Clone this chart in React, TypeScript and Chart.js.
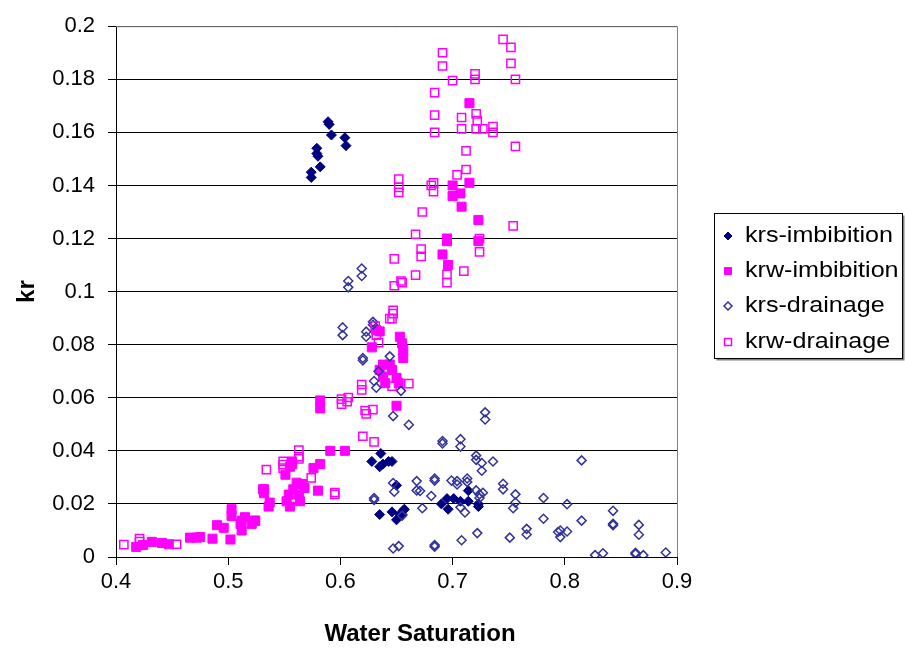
import React, { useEffect, useRef } from 'react';
import { Chart, registerables } from 'chart.js';

Chart.register(...registerables);

const SERIES_NAMES = ['krs-imbibition', 'krw-imbibition', 'krs-drainage', 'krw-drainage'];
const X_AXIS_TITLE = 'Water Saturation';
const Y_AXIS_TITLE = 'kr';

// krs-imbibition (filled navy diamonds)
const krsImbX = [0.589, 0.590, 0.592, 0.604, 0.605, 0.579, 0.579, 0.580, 0.582, 0.574, 0.574,
  0.636, 0.628, 0.635, 0.638, 0.643, 0.646, 0.650, 0.635, 0.646, 0.650, 0.653, 0.657, 0.655, 0.656,
  0.690, 0.695, 0.696, 0.701, 0.707, 0.714, 0.714, 0.723, 0.723];
const krsImbY = [0.164, 0.163, 0.159, 0.158, 0.155, 0.154, 0.152, 0.151, 0.147, 0.145, 0.143,
  0.039, 0.036, 0.034, 0.035, 0.036, 0.036, 0.027, 0.016, 0.017, 0.014, 0.016, 0.018, 0.016, 0.0175,
  0.020, 0.022, 0.018, 0.022, 0.021, 0.021, 0.025, 0.019, 0.020];

// krw-imbibition (filled magenta squares)
const krwImbX = [0.715, 0.700, 0.700, 0.707, 0.715, 0.708, 0.723, 0.695, 0.695, 0.691, 0.696, 0.723,
  0.632, 0.635, 0.628, 0.653, 0.655, 0.656, 0.656, 0.638, 0.644, 0.646, 0.635, 0.638, 0.640, 0.650, 0.652, 0.582, 0.582, 0.650,
  0.591, 0.604, 0.557, 0.557, 0.555, 0.551, 0.576, 0.582, 0.561, 0.566, 0.558, 0.568, 0.554, 0.563, 0.552, 0.564, 0.555, 0.537, 0.536, 0.532, 0.532, 0.580, 0.524, 0.521, 0.531,
  0.503, 0.503, 0.512, 0.515, 0.524, 0.512, 0.511, 0.490, 0.496, 0.502, 0.486, 0.466, 0.472, 0.475, 0.447, 0.441, 0.432, 0.424, 0.418];
const krwImbY = [0.171, 0.140, 0.136, 0.137, 0.141, 0.132, 0.127, 0.120, 0.119, 0.114, 0.110, 0.119,
  0.0855, 0.085, 0.079, 0.083, 0.0805, 0.078, 0.075, 0.0725, 0.0725, 0.0705, 0.0705, 0.068, 0.0655, 0.0675, 0.0655, 0.059, 0.056, 0.057,
  0.040, 0.040, 0.036, 0.035, 0.034, 0.031, 0.0335, 0.035, 0.028, 0.0275, 0.0255, 0.026, 0.0235, 0.0235, 0.021, 0.021, 0.019, 0.0205, 0.019, 0.0255, 0.024, 0.025, 0.0137, 0.0125, 0.0255,
  0.018, 0.0155, 0.0137, 0.015, 0.0137, 0.010, 0.0125, 0.012, 0.011, 0.0066, 0.0069, 0.0073, 0.0073, 0.0075, 0.0048, 0.0053, 0.0057, 0.0045, 0.0038];

// krs-drainage (open blue diamonds)
const krsDrX = [0.607, 0.607, 0.619, 0.619,
  0.602, 0.602, 0.623, 0.623, 0.629, 0.629, 0.620, 0.620, 0.644, 0.634, 0.630, 0.632, 0.654,
  0.647, 0.661, 0.729, 0.729, 0.691, 0.691, 0.707, 0.707, 0.721, 0.721, 0.726, 0.726, 0.736,
  0.647, 0.648, 0.668, 0.668, 0.671, 0.681, 0.684, 0.684, 0.699, 0.704, 0.704, 0.713, 0.713, 0.721, 0.724, 0.724, 0.727, 0.745, 0.745, 0.756,
  0.756, 0.754, 0.781, 0.781, 0.673, 0.707, 0.711, 0.655, 0.766, 0.766, 0.751, 0.722, 0.708, 0.684, 0.684, 0.647, 0.652, 0.794, 0.630, 0.630,
  0.802, 0.815, 0.815, 0.796, 0.796, 0.802, 0.843, 0.843, 0.843, 0.866, 0.866, 0.827, 0.834, 0.863, 0.863, 0.870, 0.890];
const krsDrY = [0.104, 0.1016, 0.1087, 0.1059,
  0.0865, 0.0836, 0.0849, 0.083, 0.0886, 0.0875, 0.075, 0.0741, 0.0756, 0.070, 0.0663, 0.0638, 0.0626,
  0.0531, 0.0498, 0.0545, 0.0518, 0.0437, 0.0428, 0.0444, 0.0416, 0.0382, 0.0366, 0.0354, 0.0325, 0.036,
  0.0279, 0.0246, 0.0286, 0.0251, 0.0249, 0.023, 0.0296, 0.0288, 0.0288, 0.0286, 0.0273, 0.0296, 0.0283, 0.0251, 0.0236, 0.0222, 0.0242, 0.0276, 0.0255, 0.0236,
  0.0205, 0.0184, 0.0222, 0.0144, 0.0184, 0.0187, 0.0168, 0.0156, 0.0106, 0.0085, 0.0073, 0.009, 0.0063, 0.0045, 0.0039, 0.0032, 0.0041, 0.0094, 0.0215, 0.0222,
  0.0199, 0.0364, 0.0137, 0.010, 0.0075, 0.0096, 0.0174, 0.0125, 0.012, 0.0121, 0.0084, 0.0007, 0.0014, 0.0016, 0.0011, 0.0007, 0.0017];

// krw-drainage (open magenta squares)
const krwDrX = [0.745, 0.752, 0.691, 0.691, 0.752, 0.700, 0.720, 0.720, 0.756, 0.684, 0.684, 0.684, 0.708, 0.708, 0.721, 0.722, 0.721, 0.727, 0.736, 0.736, 0.756, 0.712, 0.712, 0.704,
  0.652, 0.652, 0.652, 0.683, 0.683, 0.681,
  0.673, 0.754, 0.667, 0.724, 0.724, 0.672, 0.672, 0.648, 0.667, 0.695, 0.695, 0.710, 0.654, 0.655, 0.648,
  0.647, 0.646, 0.631, 0.632, 0.634, 0.644, 0.647, 0.646, 0.661, 0.619, 0.619, 0.601, 0.601, 0.607, 0.606, 0.622, 0.623, 0.629, 0.620, 0.630,
  0.563, 0.563, 0.563, 0.549, 0.549, 0.549, 0.534, 0.574, 0.595, 0.595,
  0.407, 0.421, 0.421, 0.454];
const krwDrY = [0.195, 0.192, 0.190, 0.185, 0.186, 0.1795, 0.182, 0.180, 0.180, 0.175, 0.1665, 0.160, 0.1656, 0.1613, 0.167, 0.1644, 0.1613, 0.1613, 0.1622, 0.160, 0.1547, 0.153, 0.146, 0.144,
  0.1424, 0.1393, 0.1374, 0.141, 0.1377, 0.140,
  0.130, 0.1248, 0.1216, 0.120, 0.115, 0.116, 0.1133, 0.1123, 0.1062, 0.1065, 0.1034, 0.1077, 0.104, 0.1034, 0.1022,
  0.0929, 0.0898, 0.087, 0.0836, 0.0808, 0.0898, 0.0917, 0.0644, 0.0653, 0.065, 0.063, 0.0595, 0.0576, 0.0601, 0.0585, 0.0552, 0.0539, 0.0555, 0.0455, 0.0434,
  0.0403, 0.0378, 0.037, 0.036, 0.0348, 0.0335, 0.0329, 0.0298, 0.0243, 0.0236,
  0.0047, 0.0069, 0.0058, 0.0048];

const X_MIN = 0.4, X_MAX = 0.9, X_STEP = 0.1;
const Y_MIN = 0, Y_MAX = 0.2, Y_STEP = 0.02;

const FONT_FAMILY = '"Liberation Sans", Arial, sans-serif';
const NAVY = '#000080';
const MAGENTA = '#FF00FF';
const BLUE_OPEN = '#333399';

const pts = (xs: number[], ys: number[]) => xs.map((x, i) => ({ x, y: ys[i] }));
const fmt = (v: number | string) => String(Number(Number(v).toFixed(2)));

const markerDefs = [
  { style: 'rectRot', radius: 5, bg: NAVY, border: NAVY, bw: 1 },
  { style: 'rect', radius: 6.4, bg: MAGENTA, border: MAGENTA, bw: 1 },
  { style: 'rectRot', radius: 4.5, bg: 'rgba(0,0,0,0)', border: BLUE_OPEN, bw: 1.5 },
  { style: 'rect', radius: 5.8, bg: 'rgba(0,0,0,0)', border: MAGENTA, bw: 1.5 },
];

function drawLegendMarker(ctx: CanvasRenderingContext2D, i: number, x: number, y: number) {
  const m = markerDefs[i];
  ctx.save();
  ctx.beginPath();
  if (m.style === 'rectRot') {
    const r = 4;
    ctx.moveTo(x, y - r);
    ctx.lineTo(x + r, y);
    ctx.lineTo(x, y + r);
    ctx.lineTo(x - r, y);
    ctx.closePath();
  } else {
    const h = 3.5;
    ctx.rect(x - h, y - h, 2 * h, 2 * h);
  }
  ctx.fillStyle = m.bg;
  ctx.fill();
  ctx.strokeStyle = m.border;
  ctx.lineWidth = m.bw;
  ctx.stroke();
  ctx.restore();
}

const decorPlugin = {
  id: 'decor',
  afterDraw(chart: any) {
    const ctx: CanvasRenderingContext2D = chart.ctx;
    const a = chart.chartArea;
    ctx.save();
    // plot area border (top/right)
    ctx.strokeStyle = '#808080';
    ctx.lineWidth = 1;
    ctx.beginPath();
    ctx.moveTo(a.left, a.top + 0.5);
    ctx.lineTo(a.right + 0.5, a.top + 0.5);
    ctx.lineTo(a.right + 0.5, a.bottom);
    ctx.stroke();

    // axis titles
    ctx.fillStyle = '#000';
    ctx.font = `bold 24px ${FONT_FAMILY}`;
    ctx.textAlign = 'center';
    ctx.textBaseline = 'middle';
    ctx.fillText(X_AXIS_TITLE, 420, 634);
    ctx.save();
    ctx.translate(27, (a.top + a.bottom) / 2);
    ctx.rotate(-Math.PI / 2);
    ctx.fillText(Y_AXIS_TITLE, 0, 0);
    ctx.restore();

    // legend box
    const bx = 714.5, by = 213.5, bw = 188, bh = 145;
    ctx.fillStyle = '#808080';
    ctx.fillRect(bx + 2, by + 2, bw, bh);
    ctx.fillStyle = '#fff';
    ctx.fillRect(bx, by, bw, bh);
    ctx.strokeStyle = '#000';
    ctx.lineWidth = 1;
    ctx.strokeRect(bx, by, bw, bh);

    const rows = [236, 271, 306, 342];
    ctx.font = `22px ${FONT_FAMILY}`;
    ctx.textAlign = 'left';
    ctx.textBaseline = 'middle';
    const target = 148;
    const w0 = ctx.measureText(SERIES_NAMES[0]).width;
    const sx = w0 > 0 ? target / w0 : 1;
    SERIES_NAMES.forEach((name, i) => {
      drawLegendMarker(ctx, i, 728, rows[i]);
      ctx.save();
      ctx.translate(745, rows[i]);
      ctx.scale(sx, 1);
      ctx.fillStyle = '#000';
      ctx.fillText(name, 0, 0);
      ctx.restore();
    });
    ctx.restore();
  },
};

export default function App() {
  const ref = useRef<HTMLCanvasElement | null>(null);

  useEffect(() => {
    document.body.style.margin = '0';
    if (!ref.current) return;
    const series = [pts(krsImbX, krsImbY), pts(krwImbX, krwImbY), pts(krsDrX, krsDrY), pts(krwDrX, krwDrY)];
    const datasets = series.map((data, i) => ({
      label: SERIES_NAMES[i],
      data,
      pointStyle: markerDefs[i].style,
      pointRadius: markerDefs[i].radius,
      pointHoverRadius: markerDefs[i].radius,
      backgroundColor: markerDefs[i].bg,
      borderColor: markerDefs[i].border,
      pointBorderWidth: markerDefs[i].bw,
      borderWidth: markerDefs[i].bw,
      showLine: false,
      order: 4 - i,
    }));
    const tickFont = { family: FONT_FAMILY, size: 22 };
    const chart = new Chart(ref.current, {
      type: 'scatter',
      data: { datasets } as any,
      options: {
        responsive: false,
        animation: false,
        events: [],
        layout: { padding: { left: 0, top: 18, right: 228, bottom: 0 } },
        plugins: { legend: { display: false }, tooltip: { enabled: false } },
        scales: {
          x: {
            type: 'linear',
            min: X_MIN,
            max: X_MAX,
            ticks: { stepSize: X_STEP, callback: fmt, font: tickFont, color: '#000', padding: 4, maxRotation: 0, autoSkip: false },
            grid: { drawOnChartArea: false, drawTicks: true, tickLength: 8, color: '#000', lineWidth: 1 },
            border: { display: true, color: '#000', width: 1 },
            afterFit: (s: any) => { s.height = 97; },
          },
          y: {
            type: 'linear',
            min: Y_MIN,
            max: Y_MAX,
            ticks: { stepSize: Y_STEP, callback: fmt, font: tickFont, color: '#000', padding: 13, autoSkip: false },
            grid: { drawTicks: true, tickLength: 8, color: '#000', lineWidth: 1 },
            border: { display: true, color: '#000', width: 1 },
            afterFit: (s: any) => { s.width = 116; },
          },
        },
      } as any,
      plugins: [decorPlugin],
    });
    return () => chart.destroy();
  }, []);

  return <canvas ref={ref} width={905} height={654} style={{ display: 'block' }} />;
}
